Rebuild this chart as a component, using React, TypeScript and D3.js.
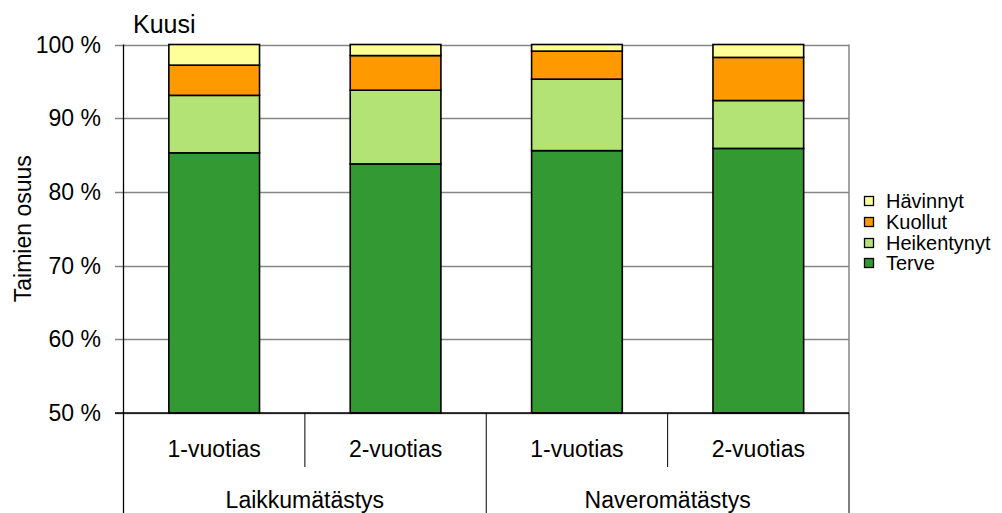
import React from "react";
import * as d3 from "d3";

// data (percent of seedlings)
const categories = ["1-vuotias", "2-vuotias", "1-vuotias", "2-vuotias"];
const groups = ["Laikkumätästys", "Naveromätästys"];
const seriesNames = ["Terve", "Heikentynyt", "Kuollut", "Hävinnyt"];
const terve = [85.3, 83.8, 85.6, 85.9];
const heikentynyt = [7.8, 10.0, 9.7, 6.5];
const kuollut = [4.1, 4.7, 3.8, 5.85];
const havinnyt = [2.8, 1.5, 0.9, 1.75];
const yTicks = [50, 60, 70, 80, 90, 100];

const colors = ["#339933", "#b3e374", "#ff9900", "#ffff99"];
const FONT = "'Liberation Sans', Arial, sans-serif";

export default function App() {
  const width = 1002;
  const height = 513;
  const left = 123.5;
  const right = 849;
  const top = 44.5;
  const bottom = 413;

  const rows = categories.map((c, i) => ({
    key: i,
    Terve: terve[i],
    Heikentynyt: heikentynyt[i],
    Kuollut: kuollut[i],
    Hävinnyt: havinnyt[i],
  }));
  const stacked = d3.stack<any>().keys(seriesNames)(rows);

  const x = d3
    .scaleBand<number>()
    .domain(categories.map((_, i) => i))
    .range([left, right])
    .paddingInner(0.5)
    .paddingOuter(0.25);
  const y = d3.scaleLinear().domain([50, 100]).range([bottom, top]).clamp(true);

  const step = x.step();
  const groupStart = (g: number) => left + g * 2 * step;

  const legendY = [201, 222, 243, 263];
  const legendOrder = [3, 2, 1, 0];

  return (
    <svg
      width={width}
      height={height}
      style={{ position: "absolute", left: 0, top: 0, background: "#fff" }}
      fontFamily={FONT}
    >
      {/* grid */}
      {yTicks.map((t) => (
        <line key={t} x1={115} x2={right} y1={Math.round(y(t)) + 0.5} y2={Math.round(y(t)) + 0.5} stroke="#868686" strokeWidth={1.5} />
      ))}
      <line x1={right} x2={right} y1={top} y2={bottom} stroke="#868686" strokeWidth={1.5} />

      {/* bars */}
      {stacked.map((s, si) => (
        <g key={s.key}>
          {s.map((d, i) => (
            <rect
              key={i}
              x={x(i)}
              width={x.bandwidth()}
              y={y(d[1])}
              height={y(d[0]) - y(d[1])}
              fill={colors[si]}
              stroke="#000"
              strokeWidth={1.6}
            />
          ))}
        </g>
      ))}

      {/* axes */}
      <line x1={left} x2={left} y1={top} y2={height} stroke="#000" strokeWidth={1.3} />
      <line x1={115} x2={right} y1={bottom} y2={bottom} stroke="#000" strokeWidth={1.5} />
      {yTicks.map((t) => (
        <text key={t} x={101} y={y(t)} dy="0.35em" textAnchor="end" fontSize={23} fill="#000">
          {t} %
        </text>
      ))}

      {/* category separators */}
      {categories.map((_, i) =>
        i % 2 === 1 ? (
          <line key={"s" + i} x1={left + i * step} x2={left + i * step} y1={bottom} y2={467} stroke="#000" strokeWidth={1} />
        ) : null
      )}
      {[1, 2].map((g) => (
        <line key={"g" + g} x1={groupStart(g)} x2={groupStart(g)} y1={bottom} y2={height} stroke="#000" strokeWidth={1} />
      ))}
      {categories.map((c, i) => (
        <text key={"c" + i} x={x(i)! + x.bandwidth() / 2} y={457} textAnchor="middle" fontSize={23} fill="#000">
          {c}
        </text>
      ))}
      {groups.map((g, gi) => (
        <text key={g} x={groupStart(gi) + step} y={508} textAnchor="middle" fontSize={23} fill="#000">
          {g}
        </text>
      ))}

      {/* titles */}
      <text x={133} y={33} fontSize={25} fill="#000">
        Kuusi
      </text>
      <text
        transform={`translate(31, ${(top + bottom) / 2}) rotate(-90)`}
        textAnchor="middle"
        fontSize={23}
        fill="#000"
      >
        Taimien osuus
      </text>

      {/* legend */}
      {legendOrder.map((si, k) => (
        <g key={seriesNames[si]} transform={`translate(864, ${legendY[k]})`}>
          <rect x={0.5} y={-4.5} width={9} height={9} fill={colors[si]} stroke="#000" strokeWidth={1.3} />
          <text x={22} y={0} dy="0.35em" fontSize={20} fill="#000">
            {seriesNames[si]}
          </text>
        </g>
      ))}
    </svg>
  );
}
